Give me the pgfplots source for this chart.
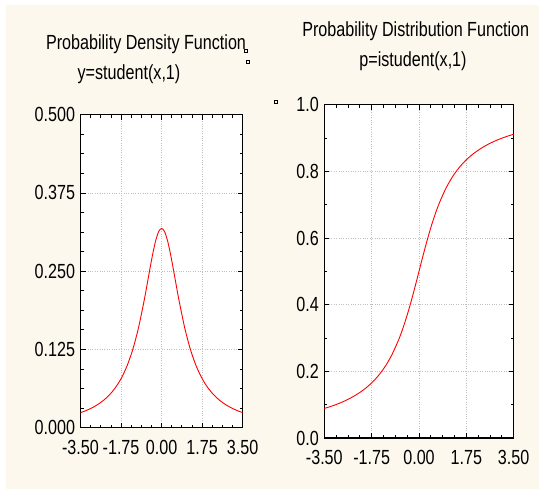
\documentclass[border=0pt]{standalone}
\usepackage{fontspec}
\setmainfont{Liberation Sans}[FakeStretch=0.79]
\usepackage{pgfplots}
\pgfplotsset{compat=1.18}
\definecolor{cream}{RGB}{253,248,237}
\pgfplotsset{
  myaxis/.style={
    scale only axis,
    anchor=south west,
    axis line style={black, line width=1.2bp},
    tick style={black, line width=0.8bp},
    tick align=inside,
    major tick length=5bp,
    minor tick length=3bp,
    xtick pos=both, ytick pos=both,
    grid=major,
    major grid style={gray!50, dotted, line width=0.7bp},
    xmin=-3.5, xmax=3.5,
    xtick={-3.5,-1.75,0,1.75,3.5},
    xticklabels={-3.50,-1.75,0.00,1.75,3.50},
    minor x tick num=3,
    tick label style={font=\fontsize{20.5}{23}\selectfont},
    xticklabel style={yshift=-9bp},
    yticklabel style={xshift=-2bp},
    axis background/.style={fill=white},
    clip=true,
  }
}
\begin{document}
\begin{tikzpicture}
\useasboundingbox (0,0) rectangle (539bp,489bp);
\fill[white] (0,0) rectangle (539bp,489bp);
\fill[cream] (6bp,0) rectangle (539bp,484bp);
% titles
\node[anchor=base, font=\fontsize{20.5}{23}\selectfont] at (146bp,439bp) {Probability Density Function};
\node[anchor=base, font=\fontsize{20.5}{23}\selectfont] at (129bp,409bp) {y=student(x,1)};
\node[anchor=base, font=\fontsize{20.5}{23}\selectfont] at (415.7bp,452bp) {Probability Distribution Function};
\node[anchor=base, font=\fontsize{20.5}{23}\selectfont] at (413bp,422bp) {p=istudent(x,1)};
% small artifacts
\draw[line width=0.6bp] (244.5bp,436.5bp) rectangle (247bp,439.5bp);
\draw[line width=0.6bp] (246.5bp,425.5bp) rectangle (249bp,428.5bp);
\draw[line width=0.6bp] (274.5bp,386bp) rectangle (277bp,389bp);
\begin{axis}[myaxis,
  at={(80.5bp,61.3bp)},
  width=162.2bp, height=313bp,
  ymin=0, ymax=0.5,
  ytick={0,0.125,0.25,0.375,0.5},
  yticklabels={0.000,0.125,0.250,0.375,0.500},
  minor y tick num=3,
]
\addplot[red, line width=0.9bp, smooth] coordinates {
(-3.5,0.02402)(-3.25,0.02753)(-3.0,0.03183)(-2.75,0.03718)(-2.5,0.04390)
(-2.25,0.05251)(-2.0,0.06366)(-1.75,0.07835)(-1.5,0.09794)(-1.25,0.12422)
(-1.0,0.15915)(-0.75,0.20372)(-0.625,0.22890)(-0.5,0.25465)(-0.375,0.27907)
(-0.25,0.29959)(-0.125,0.31341)(0,0.31831)(0.125,0.31341)(0.25,0.29959)
(0.375,0.27907)(0.5,0.25465)(0.625,0.22890)(0.75,0.20372)(1.0,0.15915)
(1.25,0.12422)(1.5,0.09794)(1.75,0.07835)(2.0,0.06366)(2.25,0.05251)
(2.5,0.04390)(2.75,0.03718)(3.0,0.03183)(3.25,0.02753)(3.5,0.02402)
};
\end{axis}
\begin{axis}[myaxis,
  at={(324.3bp,51bp)},
  width=189.4bp, height=333.3bp,
  ymin=0, ymax=1,
  ytick={0,0.2,0.4,0.6,0.8,1.0},
  yticklabels={0.0,0.2,0.4,0.6,0.8,1.0},
  minor y tick num=1,
]
\addplot[red, line width=0.9bp, smooth] coordinates {
(-3.5,0.08859)(-3.25,0.09502)(-3.0,0.10242)(-2.75,0.11102)(-2.5,0.12112)
(-2.25,0.13327)(-2.0,0.14758)(-1.75,0.16525)(-1.5,0.18717)(-1.25,0.21478)
(-1.0,0.25)(-0.75,0.29517)(-0.625,0.32219)(-0.5,0.35242)(-0.375,0.38580)
(-0.25,0.42202)(-0.125,0.46042)(0,0.5)(0.125,0.53958)(0.25,0.57798)
(0.375,0.61420)(0.5,0.64758)(0.625,0.67781)(0.75,0.70483)(1.0,0.75)
(1.25,0.78522)(1.5,0.81283)(1.75,0.83475)(2.0,0.85242)(2.25,0.86673)
(2.5,0.87888)(2.75,0.88898)(3.0,0.89758)(3.25,0.90498)(3.5,0.91141)
};
\end{axis}
\end{tikzpicture}
\end{document}
